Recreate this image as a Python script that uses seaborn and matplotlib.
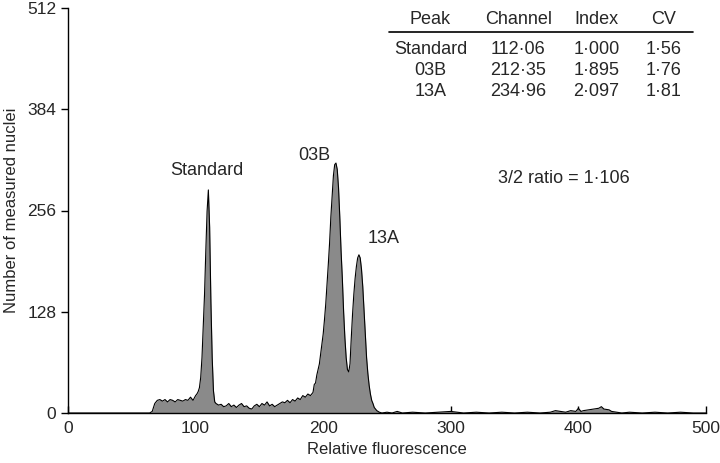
import numpy as np
import pandas as pd
import matplotlib
matplotlib.use("Agg")
import matplotlib.pyplot as plt
import seaborn as sns

# Histogram: channel vs number of nuclei
channel = [0, 64, 66, 68, 70, 72, 74, 76, 78, 80, 82, 84, 86, 88, 90, 92, 94, 96, 97, 98, 99,
           100, 101, 102, 103, 104, 105, 106, 107, 108, 109, 110, 111, 112, 113, 114, 115, 116,
           118, 120, 122, 124, 126, 128, 130, 132, 134, 136, 138, 140, 142, 144, 146, 148, 150,
           152, 154, 156, 158, 160, 162, 164, 166, 168, 170, 172, 174, 176, 178, 180, 182, 184,
           186, 188, 190, 192, 193, 194, 195, 196, 197, 198, 199, 200, 201, 202, 203, 204, 205,
           206, 207, 208, 209, 210, 211, 212, 213, 214, 215, 216, 217, 218, 219, 220, 221, 222,
           223, 224, 225, 226, 227, 228, 229, 230, 231, 232, 233, 234, 235, 236, 237, 238, 239,
           240, 242, 244, 246, 250, 254, 258, 262, 270, 280, 290, 300, 310, 320, 330, 340, 350,
           360, 370, 378, 382, 386, 390, 394, 398, 400, 402, 404, 408, 412, 416, 418, 420, 424,
           426, 430, 434, 440, 450, 460, 470, 480, 490, 500]
nuclei = [0, 0, 2, 12, 16, 17, 15, 17, 14, 17, 16, 14, 17, 16, 15, 17, 16, 20, 18, 16, 19,
          22, 24, 27, 32, 45, 70, 110, 150, 205, 255, 282, 235, 140, 70, 28, 14, 12,
          10, 11, 8, 9, 12, 8, 10, 7, 10, 12, 8, 9, 6, 5, 9, 11, 8,
          12, 10, 14, 9, 11, 8, 10, 12, 14, 13, 16, 13, 17, 15, 19, 17, 22,
          20, 24, 22, 26, 36, 38, 48, 55, 62, 75, 88, 100, 118, 138, 162, 188, 215,
          248, 275, 300, 314, 316, 308, 285, 248, 205, 170, 128, 95, 70, 55, 52, 62, 95,
          125, 150, 170, 185, 196, 200, 196, 182, 160, 130, 100, 70, 50, 35, 24, 16, 12,
          7, 3, 1, 0, 1, 0, 2, 0, 1, 0, 1, 2, 0, 1, 0, 1, 0,
          1, 0, 1, 3, 2, 1, 3, 2, 6, 2, 3, 4, 5, 6, 8, 5, 4,
          2, 1, 0, 1, 0, 1, 0, 1, 0, 0]

peak_names = ["Standard", "03B", "13A"]
peak_channel = ["112·06", "212·35", "234·96"]
peak_index = ["1·000", "1·895", "2·097"]
peak_cv = ["1·56", "1·76", "1·81"]
table_header = ["Peak", "Channel", "Index", "CV"]

df = pd.DataFrame({"channel": channel, "nuclei": nuclei})

sns.set_theme(style="ticks")
plt.rcParams["font.family"] = ["Liberation Sans", "DejaVu Sans"]

fig = plt.figure(figsize=(7.2, 4.63), dpi=100)
ax = fig.add_axes([68 / 720, 50 / 463, 638 / 720, 405 / 463])

ax.fill_between(df["channel"], df["nuclei"], color="#8a8a8a", linewidth=0)
sns.lineplot(data=df, x="channel", y="nuclei", color="black", linewidth=0.8, ax=ax)

ax.set_xlim(0, 500)
ax.set_ylim(0, 512)
ax.set_xticks([0, 100, 200, 300, 400, 500])
ax.set_yticks([0, 128, 256, 384, 512])
ax.tick_params(axis="x", direction="in", length=5, width=1, labelsize=12.5, color="black", pad=6)
ax.tick_params(axis="y", direction="out", length=5, width=1, labelsize=12.5, color="black")
sns.despine(ax=ax)
for s in ["left", "bottom"]:
    ax.spines[s].set_color("black")
    ax.spines[s].set_linewidth(1)
ax.set_xlabel("Relative fluorescence", fontsize=12, labelpad=4)
ax.set_ylabel("Number of measured nuclei", fontsize=12, labelpad=6)

# peak labels
ax.text(109, 307, "Standard", ha="center", va="center", fontsize=13)
ax.text(193, 325, "03B", ha="center", va="center", fontsize=13)
ax.text(247, 220, "13A", ha="center", va="center", fontsize=13)
ax.text(389, 296, "3/2 ratio = 1·106", ha="center", va="center", fontsize=13)

# table of peaks
col_x = [284, 353, 414, 467]
for x, h in zip(col_x, table_header):
    ax.text(x, 497, h, ha="center", va="center", fontsize=13)
ax.plot([251.6, 489.8], [482, 482], color="black", linewidth=1.2, clip_on=False)
row_y = [459, 433, 407]
for i, y in enumerate(row_y):
    for x, val in zip(col_x, [peak_names[i], peak_channel[i], peak_index[i], peak_cv[i]]):
        ax.text(x, y, val, ha="center", va="center", fontsize=13)

fig.savefig("out.png", dpi=100)
